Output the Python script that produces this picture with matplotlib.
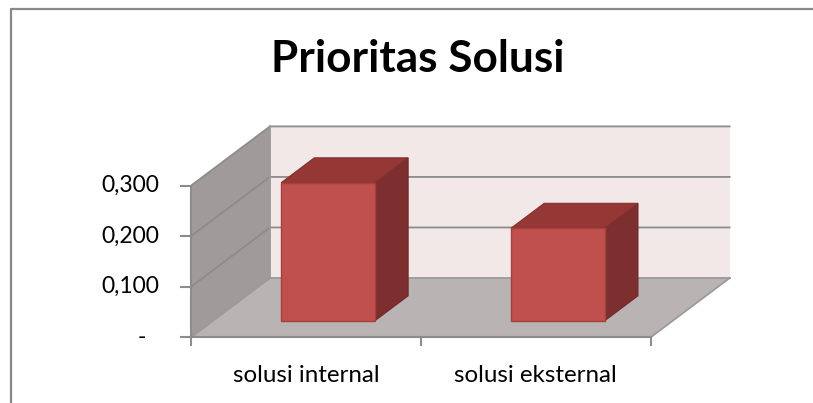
import matplotlib
matplotlib.use("Agg")
import matplotlib.pyplot as plt
from matplotlib.patches import Polygon
from matplotlib.lines import Line2D

# data
categories = ["solusi internal", "solusi eksternal"]
values = [0.273, 0.183]
yticks = [0.0, 0.1, 0.2, 0.3]
ytick_labels = ["-", "0,100", "0,200", "0,300"]
title = "Prioritas Solusi"

plt.rcParams['font.family'] = ['Lato', 'DejaVu Sans']

W, H = 813, 403
fig = plt.figure(figsize=(W / 100, H / 100), dpi=100)
ax = fig.add_axes([0, 0, 1, 1])
ax.axis('off')

# map: category x 0..2 -> px 191..650.7, value 0..0.3 -> px(from bottom) 65.7..217.3
sx = (650.7 - 191) / 2
sy = (217.3 - 65.7) / 0.3
ax.set_xlim(-191 / sx, (W - 191) / sx)
ax.set_ylim(-65.7 / sy, (H - 65.7) / sy)

# oblique depth vector (full depth) in data units
DX = 79 / sx
DZ = 59.3 / sy
zmax = 0.3
ncat = len(categories)


def P(x, z, d):
    return (x + d * DX, z + d * DZ)


grid_c = '#8c8c8c'

# walls and floor
back = Polygon([P(0, 0, 1), P(ncat, 0, 1), P(ncat, zmax, 1), P(0, zmax, 1)],
               closed=True, fc='#f3e8e8', ec='none', zorder=1)
side = Polygon([P(0, 0, 0), P(0, 0, 1), P(0, zmax, 1), P(0, zmax, 0)],
               closed=True, fc='#a09a9a', ec='none', zorder=1)
floor = Polygon([P(0, 0, 0), P(ncat, 0, 0), P(ncat, 0, 1), P(0, 0, 1)],
                closed=True, fc='#bab3b3', ec='none', zorder=1)
for p in (back, side, floor):
    ax.add_patch(p)

# gridlines on back and side walls
for z in yticks[1:]:
    a, b, c = P(0, z, 0), P(0, z, 1), P(ncat, z, 1)
    ax.plot([a[0], b[0], c[0]], [a[1], b[1], c[1]], color=grid_c, lw=1.3, zorder=2)
# edges of the box
for seg in [(P(0, 0, 1), P(ncat, 0, 1)), (P(0, 0, 1), P(0, zmax, 1)),
            (P(0, 0, 0), P(0, 0, 1)), (P(ncat, 0, 0), P(ncat, 0, 1)),
            (P(0, 0, 0), P(ncat, 0, 0))]:
    ax.plot([seg[0][0], seg[1][0]], [seg[0][1], seg[1][1]], color='#9a9a9a', lw=1.3, zorder=2)

# bars
bw = 0.408
d0, d1 = 0.28, 0.70
for i, v in enumerate(values):
    xl = i + 0.5 - bw / 2
    xr = i + 0.5 + bw / 2
    front = [P(xl, 0, d0), P(xr, 0, d0), P(xr, v, d0), P(xl, v, d0)]
    top = [P(xl, v, d0), P(xr, v, d0), P(xr, v, d1), P(xl, v, d1)]
    rside = [P(xr, 0, d0), P(xr, 0, d1), P(xr, v, d1), P(xr, v, d0)]
    ax.add_patch(Polygon(rside, closed=True, fc='#7c2f2e', ec='#6e2a29', lw=0.8, zorder=3))
    ax.add_patch(Polygon(top, closed=True, fc='#943735', ec='#842f2e', lw=0.8, zorder=3))
    ax.add_patch(Polygon(front, closed=True, fc='#c0504d', ec='#a5403d', lw=1.0, zorder=4))

# value axis (front left)
axc = '#8c8c8c'
ax.plot([0, 0], [0, zmax], color=axc, lw=1.5, zorder=5)
tick_len = 10 / sx
for z, lab in zip(yticks, ytick_labels):
    ax.plot([-tick_len, 0], [z, z], color=axc, lw=1.5, zorder=5)
    xt = -32 / sx if lab != '-' else -45 / sx
    ax.text(xt, z, lab, ha='right', va='center', fontsize=16.5, color='black')

# category axis ticks
ax.plot([0, ncat], [0, 0], color=axc, lw=1.5, zorder=5)
for k in range(ncat + 1):
    ax.plot([k, k], [0, -8 / sy], color=axc, lw=1.5, zorder=5)
for i, c in enumerate(categories):
    ax.text(i + 0.5, -44.3 / sy, c, ha='center', va='baseline', fontsize=17.4, color='black')

# title
fig.text(418 / W, 1 - 72.3 / H, title, ha='center', va='baseline',
         fontsize=31.8, fontweight='bold', color='black')

# chart border
fig.add_artist(Line2D([10.5 / W, 10.5 / W, 1], [0, 1 - 8.5 / H, 1 - 8.5 / H],
                      transform=fig.transFigure, color='#888888', lw=1.6))

fig.savefig('out.png', dpi=100)
